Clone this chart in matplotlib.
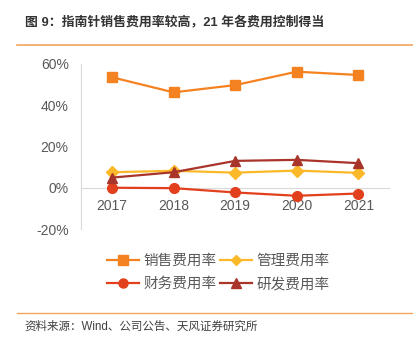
import matplotlib
matplotlib.use("Agg")
import matplotlib.pyplot as plt
from matplotlib.lines import Line2D

plt.rcParams["font.family"] = ["Liberation Sans", "Noto Sans CJK SC", "DejaVu Sans"]

# ─── Data ────────────────────────────────────────────────────────────────────
YEARS   = ["2017", "2018", "2019", "2020", "2021"]
SALES   = [53.5, 46.2, 49.7, 56.2, 54.6]    # 销售费用率
ADMIN   = [7.5, 8.2, 7.3, 8.3, 7.2]         # 管理费用率
FINANCE = [0.0, -0.2, -2.3, -3.9, -2.8]     # 财务费用率
RND     = [4.9, 7.5, 13.0, 13.5, 11.9]      # 研发费用率
YTICKS  = [-20, 0, 20, 40, 60]

SERIES = [
    ("销售费用率", SALES,   dict(color="#F58220", marker="s", ms=7.5)),
    ("管理费用率", ADMIN,   dict(color="#FBB829", marker="D", ms=6)),
    ("财务费用率", FINANCE, dict(color="#E2401C", marker="o", ms=7)),
    ("研发费用率", RND,     dict(color="#A9342A", marker="^", ms=7.5)),
]

GRAY = "#595959"
ORANGE = "#F4A460"

fig = plt.figure(figsize=(4.14, 3.47), dpi=100)
ax = fig.add_axes([0.196, 0.340, 0.744, 0.476])

x = range(len(YEARS))
handles = {}
for label, vals, st in SERIES:
    ax.plot(x, vals, color=st["color"], lw=1.6, marker=st["marker"],
            ms=st["ms"], mec=st["color"], mfc=st["color"], zorder=3)
    handles[label] = Line2D([], [], color=st["color"], lw=1.6,
                            marker=st["marker"], ms=st["ms"] - 0.5, label=label)

ax.set_xlim(-0.5, len(YEARS) - 0.5)
ax.set_ylim(-20, 60)
ax.set_yticks(YTICKS)
ax.set_yticklabels([f"{v}%" for v in YTICKS])
ax.set_xticks(list(x))
ax.set_xticklabels(YEARS)

for s in ["top", "right"]:
    ax.spines[s].set_visible(False)
ax.spines["bottom"].set_position(("data", 0))
ax.spines["bottom"].set_color("#D9D9D9")
ax.spines["left"].set_color("#D9D9D9")
ax.tick_params(axis="both", length=0, labelsize=10, colors=GRAY)
ax.tick_params(axis="x", pad=8)
ax.tick_params(axis="y", pad=9)

# legend fills column-wise: order so rows read 销售/管理, 财务/研发
order = ["销售费用率", "财务费用率", "管理费用率", "研发费用率"]
fig.legend(handles=[handles[k] for k in order], ncol=2, loc="center",
           bbox_to_anchor=(0.527, 0.215), frameon=False, fontsize=10.5,
           handlelength=2.2, handletextpad=0.3, columnspacing=0.2,
           labelspacing=0.65, labelcolor=GRAY)

# title, rules and source
fig.text(0.06, 0.934, "图 9：指南针销售费用率较高，21 年各费用控制得当",
         fontsize=9.3, fontweight="bold", color="#333333", va="center")
fig.add_artist(Line2D([0.04, 1.0], [0.870, 0.870], color=ORANGE, lw=1.2))
fig.add_artist(Line2D([0.04, 1.0], [0.098, 0.098], color=ORANGE, lw=1.0))
fig.text(0.06, 0.058, "资料来源：Wind、公司公告、天风证券研究所",
         fontsize=8.3, color="#404040", va="center")

fig.savefig("out.png", dpi=100)
